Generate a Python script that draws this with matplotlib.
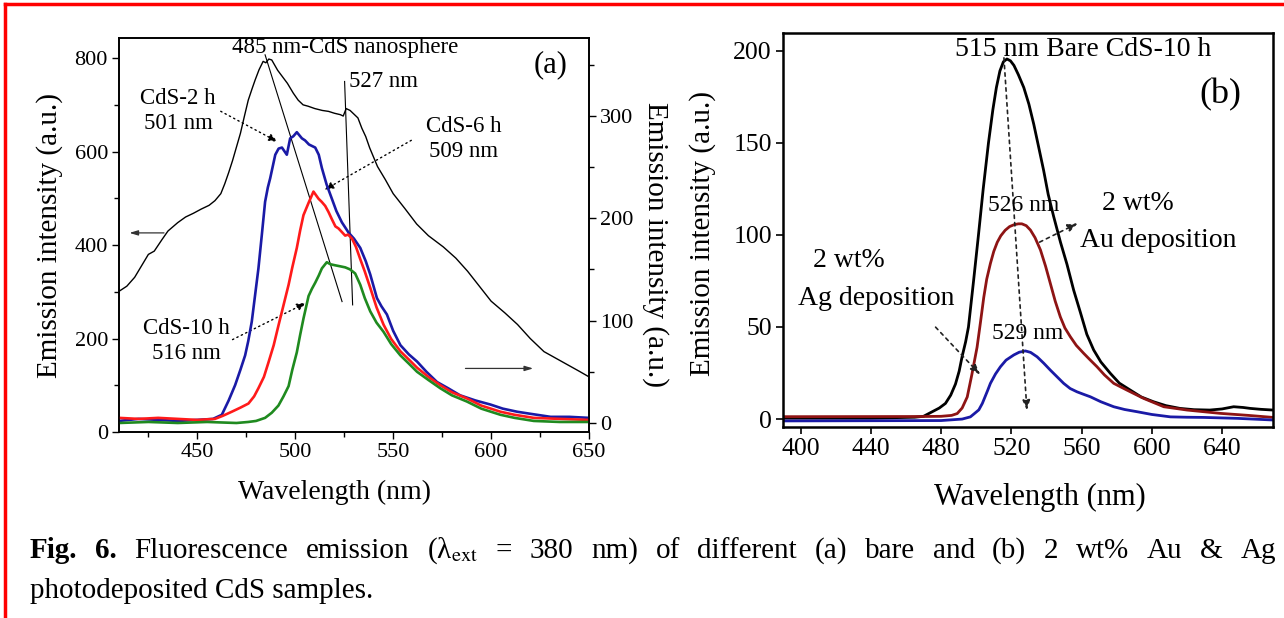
import matplotlib
matplotlib.use("Agg")

import matplotlib.pyplot as plt
from matplotlib.lines import Line2D
from matplotlib.ticker import MultipleLocator

plt.rcParams["font.family"] = ["Liberation Serif", "DejaVu Serif"]
plt.rcParams["mathtext.fontset"] = "stix"

W, H = 1284, 618

# ------------------------------------------------------------------
# Panel (a): bare CdS samples (nanosphere on left axis, rest on right)
# ------------------------------------------------------------------
a_nano_wl = [410, 414, 418, 421, 425, 428, 432, 435, 440, 444, 448, 452, 456, 459,
             462, 464, 466, 468, 470, 472, 474, 476, 478, 479.5, 481.5, 483.6,
             485, 486.5, 488, 489.5, 491, 493.5, 496, 499, 501.5, 504, 506.6, 510,
             513.8, 517, 520, 523, 524.5, 526, 528, 530, 532, 534, 536, 538, 540,
             542, 546, 550, 556, 562, 568, 575.6, 582, 588, 594, 600, 607, 613.5,
             620, 627, 633, 639, 645, 650]
a_nano_int = [301, 312, 331, 352, 380, 387, 412, 430, 448, 460, 468, 477, 485, 495,
              510, 531, 555, 581, 610, 639, 675, 710, 735, 753, 775, 793,
              790, 798, 796, 785, 774, 760, 746, 725, 710, 700, 697, 692,
              688, 686, 682, 679, 676, 692, 688, 680, 672, 650, 632, 608, 588,
              568, 540, 510, 478, 445, 420, 396, 372, 344, 312, 280, 255, 230,
              200, 172, 158, 144, 130, 118]

a_2h_wl = [410, 420, 430, 440, 450, 458, 462.5, 466, 469.3, 472, 474.4, 476, 477.8,
           479.5, 481.2, 483, 484.6, 486, 487.2, 489.8, 491.5, 493.2, 495.7, 497.4,
           499, 500.8, 503.4, 505, 507, 510.2, 512, 513.6, 516, 518.7, 521,
           523.8, 527.2, 530, 533.2, 536, 538.3, 541.7, 544, 546.8, 550, 553.7,
           558, 562.2, 567, 572.4, 578, 584.2, 592, 599.7, 606, 613.3, 620, 630.4,
           640, 650]
a_2h_int = [2, 4, 3, 2, 3, 4, 8, 22, 37, 52, 66, 80, 99,
            125, 151, 185, 216, 230, 239, 262, 268, 269, 262, 278,
            280, 284, 278, 276, 272, 269, 262, 249, 233, 219, 207,
            196, 186, 180, 171, 158, 145, 122, 114, 106, 90, 76,
            67, 60, 50, 40, 34, 27, 22, 18, 14, 11, 9, 6,
            6, 5]

a_6h_wl = [410, 420, 430, 440, 450, 459, 463, 467.6, 472, 476.1, 479, 481.2, 484,
           486.3, 489, 491.4, 494, 496.6, 498.5, 500.8, 502.5, 504.2, 506.8, 509.3,
           511.9, 513.5, 515.3, 517, 518.7, 520.5, 522.1, 525.5, 527, 529, 531,
           533.2, 535.5, 538.3, 541.5, 545.1, 549, 553.7, 558, 562.2, 568, 574,
           580, 587.6, 595, 604.8, 612, 621.8, 635, 650]
a_6h_int = [5, 4, 5, 4, 3, 4, 7, 11, 15, 19, 26, 34, 45,
            59, 76, 95, 115, 135, 152, 171, 188, 203, 215, 226,
            219, 216, 212, 206, 199, 192, 190, 183, 184, 180, 172,
            160, 148, 132, 113, 96, 82, 70, 62, 54, 45, 37,
            30, 24, 17, 11, 8, 5, 4, 3]

a_10h_wl = [410, 425, 440, 455, 470, 476, 480, 484.6, 488, 491.4, 494, 496.6, 498.5,
            500.8, 502.5, 504.2, 506.8, 508.5, 510.2, 512, 513.6, 516.1, 518, 520.4,
            523, 525.5, 528, 530.6, 533.2, 535.5, 538.3, 541.5, 545.1, 549, 553.7,
            558, 562.2, 568, 574, 580, 587.6, 595, 604.8, 612, 621.8, 635, 650]
a_10h_int = [0, 1, 0, 1, 0, 1, 2, 5, 10, 17, 26, 36, 52,
             69, 86, 102, 124, 131, 137, 144, 151, 157, 155, 154,
             153, 152, 150, 146, 135, 122, 109, 98, 89, 77, 66,
             58, 50, 42, 34, 27, 21, 14, 8, 5, 2, 1, 1]

# ------------------------------------------------------------------
# Panel (b): bare CdS-10 h vs. Au / Ag photodeposited
# ------------------------------------------------------------------
b_bare_wl = [390, 440, 465, 470, 475, 479, 482.5, 485.5, 488.2, 490.3, 492, 494,
             495.6, 498.5, 501.3, 504, 507, 509.5, 511.5, 513.5, 515.5, 517.5,
             519.5, 521.5, 524, 527.1, 530, 532.8, 535.5, 538.4, 541, 544.1, 548,
             551.7, 555.5, 559.3, 563, 566.9, 571, 576.4, 581.5, 587.8, 594, 601,
             608, 616, 624, 633, 640, 646.6, 652, 656, 662, 669]
b_bare_int = [0.5, 0.5, 1, 1.5, 4, 6, 8.5, 13, 19, 26, 34, 42,
              50, 75, 100, 125, 150, 168, 180, 189, 194, 195.5,
              194.5, 192, 187, 180, 171, 160, 148, 135, 122, 110, 96,
              84, 70, 58, 46, 37.5, 31, 24.8, 19.5, 15.7, 12, 9.4,
              7.3, 5.8, 5.1, 4.9, 5.5, 6.7, 6.3, 5.8, 5.3, 4.9]

b_au_wl = [390, 470, 480, 486, 489.2, 492, 494.9, 497.5, 500.5, 502.5, 504.3, 506,
           508.1, 510, 512, 514, 516.5, 519, 521.5, 524, 526, 528.5, 530.9, 533.5,
           536.6, 539.5, 542.2, 545, 547.9, 550.5, 553.6, 557, 561.2, 565, 568.8,
           573, 578.3, 585.9, 595.4, 606.8, 620.1, 639, 655, 669]
b_au_int = [1.3, 1.4, 1.5, 2, 3, 6, 12, 24, 39, 53, 66, 76,
            84.5, 91, 96, 99.5, 102.5, 104.5, 105.5, 106, 106, 105, 102.6, 98.5,
            91.8, 83, 73.7, 64, 55.5, 49.5, 44.7, 40, 35.7, 32, 28.4,
            24, 19.4, 15.7, 11.2, 6.7, 4.9, 3.1, 2, 0.9]

b_ag_wl = [390, 480, 492, 496.7, 499, 501.5, 503.5, 505, 506.5, 508.1, 511, 513.8,
           517, 521.4, 524.5, 528, 531, 534.7, 538.5, 542.2, 546, 549.8, 553.5,
           557.4, 561, 565, 571, 578.3, 584.5, 591.6, 600, 610.6, 620, 629.5,
           648.5, 669]
b_ag_int = [-1, -0.8, 0, 1.2, 3, 5, 8.5, 12, 15.5, 19.4, 24.5, 28.4,
            32, 34.8, 36.3, 37, 36.2, 33.8, 30.3, 26.6, 23, 19.4, 16.6,
            14.8, 13.5, 12.1, 9.4, 6.7, 5.2, 4, 2.5, 1.2, 1, 0.9,
            0.4, -0.5]

C_BLUE = "#1a1aa6"
C_RED = "#ff1a1a"
C_GREEN = "#1f8a1f"
C_DRED = "#8e1414"


def fx(px):
    return px / W


def fy(py):
    return 1 - py / H


fig = plt.figure(figsize=(W / 100, H / 100), dpi=100)

# ---- panel (a) ---------------------------------------------------
ax = fig.add_axes([fx(119), fy(432), fx(589) - fx(119), fy(38) - fy(432)])
ax2 = ax.twinx()

ax.plot(a_nano_wl, a_nano_int, color="black", lw=1.0)
ax2.plot(a_2h_wl, a_2h_int, color=C_BLUE, lw=1.9)
ax2.plot(a_6h_wl, a_6h_int, color=C_RED, lw=1.9)
ax2.plot(a_10h_wl, a_10h_int, color=C_GREEN, lw=1.9)

ax.set_xlim(410, 650)
ax.set_ylim(0, 843)
ax2.set_ylim(-8.8, 376)
ax.xaxis.set_major_locator(MultipleLocator(50))
ax.xaxis.set_minor_locator(MultipleLocator(25))
ax.yaxis.set_major_locator(MultipleLocator(200))
ax.yaxis.set_minor_locator(MultipleLocator(100))
ax2.yaxis.set_major_locator(MultipleLocator(100))
ax2.yaxis.set_minor_locator(MultipleLocator(50))
for a in (ax, ax2):
    a.tick_params(which="major", direction="out", length=5, width=1.0, labelsize=16, pad=3)
    a.tick_params(which="minor", direction="out", length=3.5, width=1.0)
    for s in a.spines.values():
        s.set_linewidth(1.2)

# guide lines and arrows (left axis data coords)
ax.plot([484.6, 523.9], [807, 279], color="black", lw=0.8)
ax.plot([525.2, 529.3], [750, 272], color="black", lw=0.8)
dot_arrow = dict(arrowstyle="-|>,head_length=0.55,head_width=0.22",
                 color="black", lw=1.0, ls=(0, (1, 2.5)))
ax.annotate("", xy=(492.3, 618), xytext=(460.7, 689), arrowprops=dot_arrow)
ax.annotate("", xy=(513.6, 515), xytext=(560.5, 627), arrowprops=dot_arrow)
ax.annotate("", xy=(506.8, 279), xytext=(466.7, 195), arrowprops=dot_arrow)
solid_arrow = dict(arrowstyle="-|>,head_length=0.5,head_width=0.15",
                   color="#333333", lw=0.9)
ax.annotate("", xy=(413.9, 426), xytext=(434.4, 426), arrowprops=solid_arrow)
ax.annotate("", xy=(622.9, 136), xytext=(585.5, 136), arrowprops=solid_arrow)

ax.text(525.5, 822, "485 nm-CdS nanosphere", ha="center", va="center", fontsize=16.5)
ax.text(527.3, 749, "527 nm", ha="left", va="center", fontsize=16.5)
ax.text(440.2, 687, "CdS-2 h\n501 nm", ha="center", va="center", fontsize=16.5, linespacing=1.25)
ax.text(585.9, 627, "CdS-6 h\n509 nm", ha="center", va="center", fontsize=16.5, linespacing=1.25)
ax.text(444.3, 195, "CdS-10 h\n516 nm", ha="center", va="center", fontsize=16.5, linespacing=1.25)
ax.text(630.3, 786, "(a)", ha="center", va="center", fontsize=22)

fig.text(fx(335), fy(492), "Wavelength (nm)", ha="center", va="center", fontsize=20)
fig.text(fx(50), fy(235), "Emission intensity (a.u.)", ha="center", va="center",
         rotation=90, fontsize=21)
fig.text(fx(655), fy(244), "Emission intensity (a.u.)", ha="center", va="center",
         rotation=270, fontsize=21)

# ---- panel (b) ---------------------------------------------------
bx = fig.add_axes([fx(783), fy(427), fx(1273) - fx(783), fy(33) - fy(427)])
bx.plot(b_bare_wl, b_bare_int, color="black", lw=2.0)
bx.plot(b_au_wl, b_au_int, color=C_DRED, lw=2.0)
bx.plot(b_ag_wl, b_ag_int, color=C_BLUE, lw=2.0)

bx.set_xlim(390, 669)
bx.set_ylim(-4.3, 209.6)
bx.set_xticks([400, 440, 480, 520, 560, 600, 640])
bx.set_yticks([0, 50, 100, 150, 200])
bx.tick_params(direction="out", length=5, width=1.2, labelsize=18.5, pad=3)
for s in bx.spines.values():
    s.set_linewidth(1.8)

dash_arrow = dict(arrowstyle="-|>,head_length=0.6,head_width=0.22",
                  color="#222222", lw=1.2, ls=(0, (2, 2.5)))
bx.annotate("", xy=(529, 3.1), xytext=(515.7, 197.6), arrowprops=dash_arrow)
bx.annotate("", xy=(559.3, 107), xytext=(534.7, 95.4), arrowprops=dash_arrow)
bx.annotate("", xy=(503.4, 23), xytext=(475.8, 51), arrowprops=dash_arrow)

bx.text(488.2, 200.4, "515 nm Bare CdS-10 h", ha="left", va="center", fontsize=20)
bx.text(526.9, 116.2, "526 nm", ha="center", va="center", fontsize=17)
bx.text(529.2, 46.7, "529 nm", ha="center", va="center", fontsize=17)
bx.text(592.3, 117.3, "2 wt%", ha="center", va="center", fontsize=20)
bx.text(559.3, 97.2, "Au deposition", ha="left", va="center", fontsize=20)
bx.text(427.3, 86.3, "2 wt%", ha="center", va="center", fontsize=20)
bx.text(398.3, 65.7, "Ag deposition", ha="left", va="center", fontsize=20)
bx.text(639.1, 176, "(b)", ha="center", va="center", fontsize=26)

fig.text(fx(1040), fy(497), "Wavelength (nm)", ha="center", va="center", fontsize=22)
fig.text(fx(703), fy(233), "Emission intensity (a.u.)", ha="center", va="center",
         rotation=90, fontsize=21)

# ---- caption ------------------------------------------------------
caption_1 = [("Fig.", "bold"), ("6.", "bold"), ("Fluorescence", "normal"),
             ("emission", "normal"), ("(λ$_{\\rm ext}$", "normal"), ("=", "normal"),
             ("380", "normal"), ("nm)", "normal"), ("of", "normal"),
             ("different", "normal"), ("(a)", "normal"), ("bare", "normal"),
             ("and", "normal"), ("(b)", "normal"), ("2", "normal"), ("wt%", "normal"),
             ("Au", "normal"), ("&", "normal"), ("Ag", "normal")]
caption_2 = "photodeposited CdS samples."

renderer = fig.canvas.get_renderer()
x0, x1 = fx(30), fx(1276)
words = [fig.text(0, fy(558), w, fontsize=21, fontweight=wt, va="baseline")
         for w, wt in caption_1]
widths = [t.get_window_extent(renderer).width / W for t in words]
gap = (x1 - x0 - sum(widths)) / (len(words) - 1)
xpos = x0
for t, wd in zip(words, widths):
    t.set_x(xpos)
    xpos += wd + gap
fig.text(x0, fy(598), caption_2, fontsize=21, va="baseline")

# ---- red frame -----------------------------------------------------
fig.add_artist(Line2D([fx(5), fx(5)], [0, fy(4)], color="red", lw=2.5))
fig.add_artist(Line2D([fx(5), 1], [fy(4), fy(4)], color="red", lw=2.5))

fig.savefig("out.png", dpi=100)
